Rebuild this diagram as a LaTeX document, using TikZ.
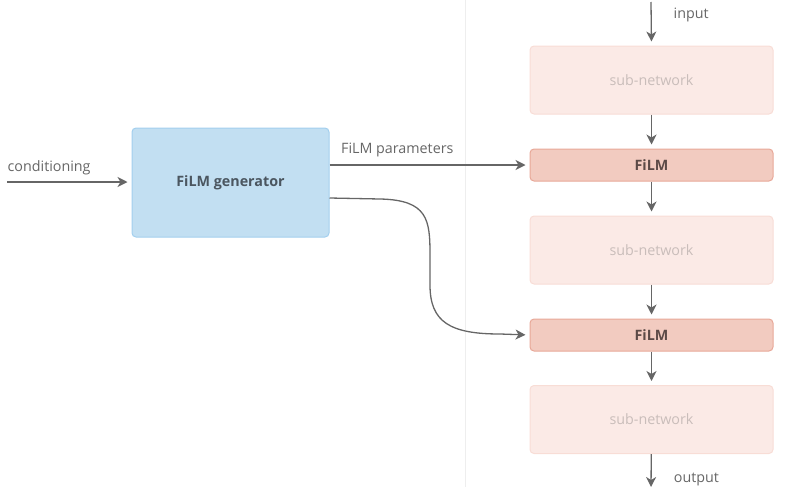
\documentclass[tikz,border=0pt]{standalone}
\usepackage{fontspec}
\setmainfont{Open Sans}
\usetikzlibrary{positioning,arrows.meta}
\definecolor{genfill}{HTML}{C2DFF2}
\definecolor{gendraw}{HTML}{A3CFEE}
\definecolor{subfill}{HTML}{FBEAE6}
\definecolor{subdraw}{HTML}{F8DDD6}
\definecolor{subtext}{HTML}{C9BDBA}
\definecolor{filmfill}{HTML}{F2CBC0}
\definecolor{filmdraw}{HTML}{E8A898}
\definecolor{filmtext}{HTML}{5C4A47}
\definecolor{gentext}{HTML}{4B5660}
\definecolor{arrowgray}{HTML}{666666}
\definecolor{sepgray}{HTML}{EEEEEE}

\begin{document}
\begin{tikzpicture}[x=1pt,y=-1pt,
	every node/.style={font=\fontsize{14.3}{16}\selectfont},
	genbox/.style={draw=gendraw,fill=genfill,rounded corners=4pt,line width=1pt,minimum width=197pt,minimum height=109pt,text=gentext,font=\fontsize{14.3}{16}\selectfont\bfseries},
	subbox/.style={draw=subdraw,fill=subfill,rounded corners=4pt,line width=1pt,minimum width=243pt,minimum height=68pt,text=subtext},
	filmbox/.style={draw=filmdraw,fill=filmfill,rounded corners=4pt,line width=1pt,minimum width=243pt,minimum height=32pt,text=filmtext,font=\fontsize{14.3}{16}\selectfont\bfseries},
	flow/.style={draw=arrowgray,line width=1.3pt,-{Stealth[length=10pt,width=10pt,inset=3pt]},shorten >=4pt},
	lbl/.style={text=arrowgray,inner sep=0pt,anchor=base west}]
				\useasboundingbox (0,0) rectangle (785,501);
				\draw[sepgray, line width=1pt] (465,0) -- (465,487);
				\node[genbox] (gen) at (230.5,182.5) {FiLM generator};
				\node[subbox] (sub1) at (651.5,80) {sub-network};
				\node[filmbox] (film1) at (651.5,165) {FiLM};
				\node[subbox] (sub2) at (651.5,250) {sub-network};
				\node[filmbox] (film2) at (651.5,335) {FiLM};
				\node[subbox] (sub3) at (651.5,419.5) {sub-network};
				\coordinate (in) at (651,2);
				\coordinate (out) at (651,491);
				\coordinate (cond) at (7,182);
				\draw[flow] (in) -- (sub1.north) node[lbl, pos=0, xshift=22pt, yshift=-16pt] {input};
				\draw[flow] (sub1) -- (film1);
				\draw[flow] (film1) -- (sub2);
				\draw[flow] (sub2) -- (film2);
				\draw[flow] (film2) -- (sub3);
				\draw[flow] (sub3) -- (out) node[lbl, pos=0, xshift=22pt, yshift=-28.5pt] {output};
				\draw[flow] (cond) -- (gen.west |- cond) node[lbl, pos=0, yshift=11pt] {conditioning};
				\draw[flow] (gen.east |- film1) -- (film1.west) node[lbl, pos=0, xshift=11pt, yshift=12pt] {FiLM parameters};
				\draw[flow] (gen.east |- 0,198) -- (380,199) .. controls (428,200) and (430,220) .. (430,255) -- (430,285) .. controls (430,322) and (450,334) .. (500,334) -- (film2.west);
	\end{tikzpicture}
\end{document}
